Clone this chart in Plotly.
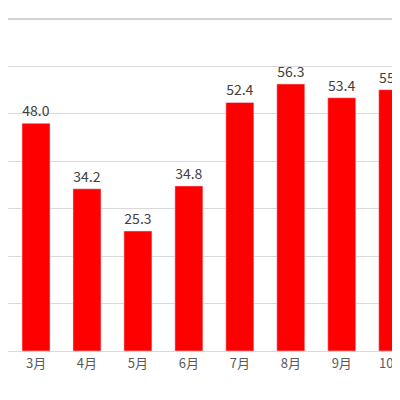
import plotly.graph_objects as go

months = ["2月", "3月", "4月", "5月", "6月", "7月", "8月", "9月", "10月", "11月"]
values = [39.8, 48.0, 34.2, 25.3, 34.8, 52.4, 56.3, 53.4, 55.1, 45.0]

fig = go.Figure(go.Bar(
    x=list(range(len(months))), y=values,
    marker_color="#ff0000", width=0.55,
    text=[f"{v:.1f}" for v in values], textposition="outside",
    textfont=dict(size=14, color="#404040"), cliponaxis=False,
))
fig.update_layout(
    width=400, height=400, margin=dict(l=0, r=0, t=11, b=57, autoexpand=False),
    plot_bgcolor="white", paper_bgcolor="white", showlegend=False,
    font=dict(family="Noto Sans CJK JP", size=13, color="#595959"),
    shapes=[dict(type="line", xref="paper", yref="paper", x0=0, x1=1, y0=1, y1=1,
                 line=dict(color="#a6a6a6", width=1))],
)
fig.update_xaxes(range=[0.45, 8.3], tickvals=list(range(len(months))), ticktext=months,
                 showgrid=False, showline=True, linecolor="#d9d9d9", ticks="",
                 automargin=False)
fig.update_yaxes(range=[0, 70], dtick=10, showticklabels=False, gridcolor="#d9d9d9",
                 zeroline=False, automargin=False)
fig.write_html("out.html")
